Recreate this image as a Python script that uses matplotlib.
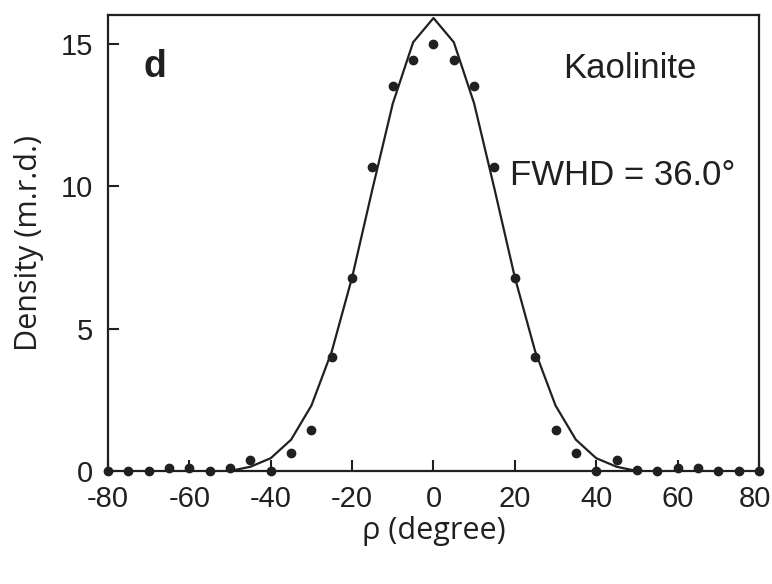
import matplotlib
matplotlib.use('Agg')
import matplotlib.pyplot as plt
import matplotlib.transforms as mtransforms
import numpy as np

plt.rcParams['font.family'] = ['Liberation Sans', 'DejaVu Sans']
plt.rcParams['axes.unicode_minus'] = False

# measured points (rho in degrees, density in m.r.d.)
rho = [-80, -75, -70, -65, -60, -55, -50, -45, -40, -35, -30, -25, -20, -15, -10, -5,
       0, 5, 10, 15, 20, 25, 30, 35, 40, 45, 50, 55, 60, 65, 70, 75, 80]
density = [0.0, 0.0, 0.0, 0.12, 0.12, 0.0, 0.09, 0.39, 0.0, 0.62, 1.44, 3.99, 6.79, 10.67, 13.5, 14.44,
           15.0, 14.44, 13.5, 10.67, 6.79, 3.99, 1.44, 0.62, 0.0, 0.39, 0.04, 0.0, 0.12, 0.12, 0.0, 0.0, 0.0]

# fitted curve
fit_rho = [-50, -45, -40, -35, -30, -25, -20, -15, -10, -5, 0, 5, 10, 15, 20, 25, 30, 35, 40, 45, 50]
fit_density = [0.0, 0.15, 0.45, 1.1, 2.3, 4.2, 6.8, 9.9, 12.9, 15.05, 15.9,
               15.05, 12.9, 9.9, 6.8, 4.2, 2.3, 1.1, 0.45, 0.15, 0.0]

xticks = [-80, -60, -40, -20, 0, 20, 40, 60, 80]
yticks = [0, 5, 10, 15]

ink = '#231f20'

fig = plt.figure(figsize=(7.72, 5.84), dpi=100)
ax = fig.add_axes([0.140, 0.1935, 0.843, 0.7805])

ax.plot(fit_rho, fit_density, color=ink, lw=1.6, zorder=2)
ax.plot(rho, density, 'o', color=ink, ms=6, clip_on=False, zorder=3)

ax.set_xlim(-80, 80)
ax.set_ylim(0, 16)
ax.set_xticks(xticks)
ax.set_yticks(yticks)
ax.set_xticklabels([str(t) for t in xticks])
ax.set_yticklabels([str(t) for t in yticks])
ax.tick_params(direction='in', length=8, width=1.5, color=ink, labelcolor=ink,
               labelsize=21)
ax.tick_params(axis='x', pad=10)
ax.tick_params(axis='y', pad=11)
for s in ax.spines.values():
    s.set_linewidth(1.6)
    s.set_color(ink)

# keep the last x label inside the canvas
last = ax.get_xticklabels()[-1]
last.set_transform(last.get_transform() + mtransforms.ScaledTranslation(-4 / 100, 0, fig.dpi_scale_trans))

ax.set_xlabel('ρ (degree)', fontsize=22, family='Open Sans', color=ink, labelpad=2)
ax.set_ylabel('Density (m.r.d.)', fontsize=22, family='Open Sans', color=ink, labelpad=12)

ax.text(0.055, 0.887, 'd', transform=ax.transAxes, fontsize=27, fontweight='bold',
        color=ink, ha='left', va='center')
ax.text(0.802, 0.882, 'Kaolinite', transform=ax.transAxes, fontsize=25,
        color=ink, ha='center', va='center')
ax.text(0.79, 0.649, 'FWHD = 36.0°', transform=ax.transAxes, fontsize=25,
        color=ink, ha='center', va='center')

fig.savefig('out.png', dpi=100)
